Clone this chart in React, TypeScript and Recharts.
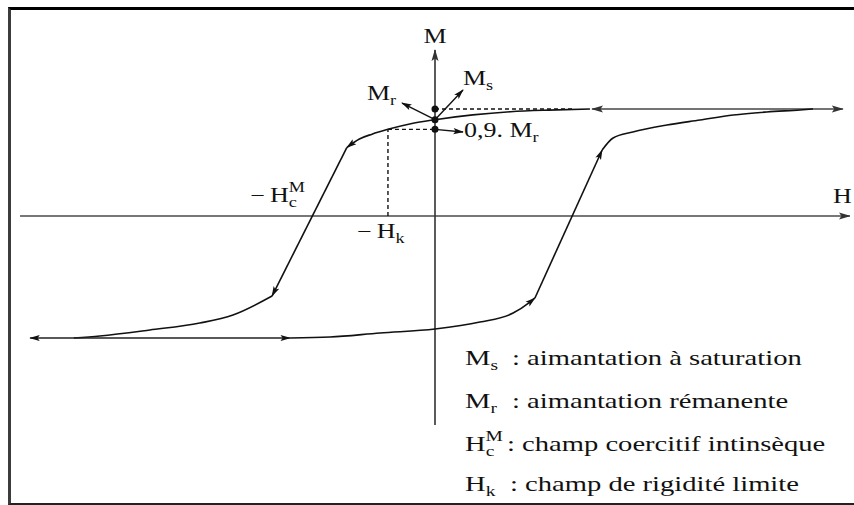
import { LineChart, Line, XAxis, YAxis, ReferenceDot } from 'recharts';

type Pt = { h: number; m: number };
const pts = (rows: number[][]): Pt[] => rows.map(([h, m]) => ({ h, m }));

// characteristic values (H in field units, M normalised to Ms)
const MS = 1.0;
const MR = 0.9;
const MR90 = 0.81;
const HK = -1.12;
const HC = -2.9;
const M_LOW = -1.14;

// descending branch: positive saturation -> negative saturation
const descUpper = pts([[3.69, MS], [2.7, 0.99], [1.8, 0.975], [0.9, 0.945], [0, MR], [-0.55, 0.865], [HK, MR90], [-1.5, 0.765], [-1.8, 0.72], [-2.1, 0.64]]);
const descSteep = pts([[-2.1, 0.64], [-3.88, -0.748]]);
const descLower = pts([[-3.88, -0.748], [-4.81, -0.925], [-5.6, -1.0], [-6.79, -1.065], [-7.98, -1.121], [-8.6, M_LOW]]);
const lowSat = pts([[-9.64, M_LOW], [-3.45, M_LOW]]);

// ascending branch: negative saturation -> positive saturation
const ascLower = pts([[-3.45, M_LOW], [-2.5, -1.131], [-1.31, -1.093], [0, -1.056], [1.07, -0.991], [1.86, -0.907], [2.26, -0.804], [2.38, -0.766]]);
const ascSteep = pts([[2.38, -0.766], [3.98, 0.617]]);
const ascUpper = pts([[3.98, 0.617], [4.24, 0.729], [4.71, 0.785], [5.52, 0.85], [6.31, 0.897], [7.1, 0.944], [7.9, 0.972], [8.69, 0.991], [9.0, MS]]);
const highSat = pts([[3.74, MS], [9.71, MS]]);

// axes
const hAxis = pts([[-9.88, 0], [9.88, 0]]);
const mAxis = pts([[0, -1.953], [0, 1.551]]);

// dashed construction lines
const msGuide = pts([[0, MS], [3.33, MS]]);
const hkVert = pts([[HK, 0], [HK, MR90]]);
const hkHoriz = pts([[HK, MR90], [0, MR90]]);

// pointers from the marked points to their labels
const mrPointer = pts([[0, MR], [-0.786, 1.056]]);
const msPointer = pts([[0, MR], [0.667, 1.178]]);
const mr90Pointer = pts([[0, MR90], [0.667, 0.785]]);

const LEGEND = [
  { base: 'M', sub: 's', sup: '', x: 512, y: 365, text: ': aimantation à saturation' },
  { base: 'M', sub: 'r', sup: '', x: 512, y: 408, text: ': aimantation rémanente' },
  { base: 'H', sub: 'c', sup: 'M', x: 507, y: 451, text: ': champ coercitif intinsèque' },
  { base: 'H', sub: 'k', sup: '', x: 510, y: 491, text: ': champ de rigidité limite' },
];

const FONT = '"Liberation Serif", "Times New Roman", serif';
const STRETCH = 1.3;
const INK = '#111';

function Sym({ pre = '', base, sub = '', sup = '', size = 20, anchor = 'start' }: any) {
  const small = Math.round(size * 0.7);
  const subW = sub.length * small * 0.45;
  return (
    <text fontFamily={FONT} fontSize={size} fill={INK} textAnchor={anchor}>
      {pre}
      {base}
      {sub && (
        <tspan fontSize={small} dy={5}>
          {sub}
        </tspan>
      )}
      {sup && (
        <tspan fontSize={small} dx={sub ? -subW : 0} dy={sub ? -15 : -9}>
          {sup}
        </tspan>
      )}
    </text>
  );
}

// label renderer placed relative to a reference point
const at = (dx: number, dy: number, el: any) => (props: any) => {
  const vb = props.viewBox ?? {};
  const x = (vb.x ?? 0) + (vb.width ?? 0) / 2 + dx;
  const y = (vb.y ?? 0) + (vb.height ?? 0) / 2 + dy;
  return <g transform={`translate(${x},${y}) scale(${STRETCH},1)`}>{el}</g>;
};

function Seg({ data, dashed = false, curve = 'linear', start = false, end = false, color = INK, width = 1.6, tip = 'tip' }: any) {
  return (
    <Line
      data={data}
      dataKey="m"
      type={curve}
      stroke={color}
      strokeWidth={width}
      strokeDasharray={dashed ? '4 3' : undefined}
      dot={false}
      activeDot={false}
      isAnimationActive={false}
      markerStart={start ? `url(#${tip})` : undefined}
      markerEnd={end ? `url(#${tip})` : undefined}
    />
  );
}

export default function App() {
  return (
    <div
      style={{
        position: 'absolute',
        left: 0,
        top: 0,
        width: 854,
        height: 505,
        overflow: 'hidden',
        background: '#fff',
      }}
    >
      <svg width={0} height={0} style={{ position: 'absolute' }}>
        <defs>
          <marker id="tip" viewBox="0 0 12 8" refX="11" refY="4" markerWidth="11" markerHeight="7" markerUnits="userSpaceOnUse" orient="auto-start-reverse">
            <path d="M0,0.5 L12,4 L0,7.5 L2.5,4 Z" fill={INK} />
          </marker>
          <marker id="tipAxis" viewBox="0 0 12 8" refX="11" refY="4" markerWidth="12" markerHeight="8" markerUnits="userSpaceOnUse" orient="auto-start-reverse">
            <path d="M0,0.5 L12,4 L0,7.5 L2.5,4 Z" fill="#333" />
          </marker>
        </defs>
      </svg>

      {/* frame */}
      <div
        style={{
          position: 'absolute',
          left: 8,
          top: 7,
          width: 900,
          height: 493,
          borderTop: '3px solid #000',
          borderLeft: '3px solid #3c3c3c',
          borderBottom: '2px solid #222',
        }}
      />

      <div style={{ position: 'absolute', left: 0, top: 0 }}>
        <LineChart width={854} height={505} margin={{ top: 2, right: 4, bottom: 2, left: 15 }}>
          <XAxis dataKey="h" type="number" domain={[-10, 9.881]} hide allowDataOverflow />
          <YAxis type="number" domain={[-2.682, 2]} hide allowDataOverflow />

          <Seg data={hAxis} color="#4a4a4a" width={1.7} end tip="tipAxis" />
          <Seg data={mAxis} color="#333" width={1.6} end tip="tipAxis" />

          <Seg data={msGuide} dashed width={1.4} />
          <Seg data={hkVert} dashed width={1.4} />
          <Seg data={hkHoriz} dashed width={1.4} />

          <Seg data={highSat} color="#444" start end tip="tipAxis" />
          <Seg data={descUpper} curve="monotone" end />
          <Seg data={descSteep} end />
          <Seg data={descLower} curve="monotone" />
          <Seg data={lowSat} color="#222" start end />
          <Seg data={ascLower} curve="monotone" end />
          <Seg data={ascSteep} end />
          <Seg data={ascUpper} curve="monotone" />

          <Seg data={mrPointer} width={1.4} end />
          <Seg data={msPointer} width={1.4} end />
          <Seg data={mr90Pointer} width={1.4} end />

          <ReferenceDot x={0} y={MS} r={3.5} fill={INK} stroke="none" />
          <ReferenceDot x={0} y={MR} r={3.5} fill={INK} stroke="none" />
          <ReferenceDot x={0} y={MR90} r={3.5} fill={INK} stroke="none" />

          <ReferenceDot x={0} y={1.551} r={0} stroke="none" label={at(0, -7, <Sym base="M" anchor="middle" />)} />
          <ReferenceDot x={9.88} y={0} r={0} stroke="none" label={at(-17, -13, <Sym base="H" />)} />
          <ReferenceDot x={0} y={MS} r={0} stroke="none" label={at(28, -24, <Sym base="M" sub="s" />)} />
          <ReferenceDot x={0} y={MR} r={0} stroke="none" label={at(-68, -20, <Sym base="M" sub="r" />)} />
          <ReferenceDot x={0} y={MR90} r={0} stroke="none" label={at(29, 8, <Sym pre="0,9. " base="M" sub="r" />)} />
          <ReferenceDot x={HC} y={0} r={0} stroke="none" label={at(-63, -14, <Sym pre={'\u2212\u2009'} base="H" sub="c" sup="M" />)} />
          <ReferenceDot x={HK} y={0} r={0} stroke="none" label={at(-31, 22, <Sym pre={'\u2212\u2009'} base="H" sub="k" />)} />
        </LineChart>
      </div>

      {/* symbol definitions */}
      <svg width={854} height={505} style={{ position: 'absolute', left: 0, top: 0, pointerEvents: 'none' }}>
        {LEGEND.map((row) => (
          <g key={row.text}>
            <g transform={`translate(465,${row.y}) scale(${STRETCH},1)`}>
              <Sym base={row.base} sub={row.sub} sup={row.sup} size={22} />
            </g>
            <g transform={`translate(${row.x},${row.y}) scale(${STRETCH},1)`}>
              <text fontFamily={FONT} fontSize={22} fill={INK}>
                {row.text}
              </text>
            </g>
          </g>
        ))}
      </svg>
    </div>
  );
}
